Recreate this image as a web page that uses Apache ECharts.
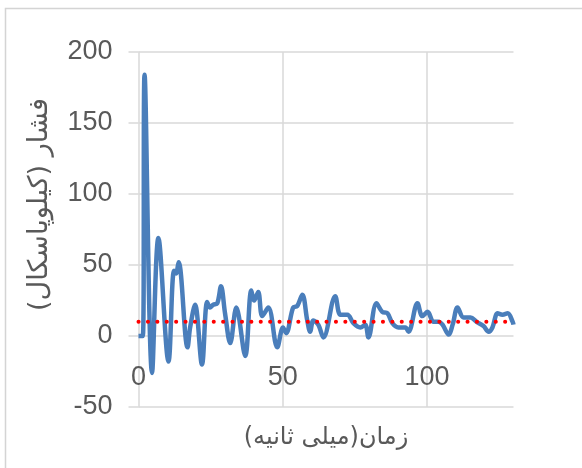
<!DOCTYPE html>
<html>
<head>
<meta charset="utf-8">
<script src="https://cdn.jsdelivr.net/npm/echarts@6/dist/echarts.min.js"></script>
<style>
html,body{margin:0;padding:0;background:#fff;}
#chart{width:582px;height:468px;}
</style>
</head>
<body>
<div id="chart"></div>
<script>
// time (ms) and pressure (kPa)
const timeMs = [0, 1.5, 2.1, 4.7, 6.9, 10.4, 12.3, 13.0, 13.9, 17.0, 17.9, 19.6, 22.0, 23.8, 24.8, 25.9, 27.3, 28.6, 30.0, 31.8, 33.9, 37.0, 39.1, 40.1, 41.5, 42.9, 45.0, 48.1, 50.1, 51.2, 53.6, 55.0, 56.8, 58.5, 59.5, 60.6, 62.3, 64.1, 68.2, 70.0, 72.4, 74.5, 76.9, 78.6, 79.7, 82.5, 84.5, 86.3, 88.0, 90.1, 92.5, 93.6, 96.7, 98.4, 100.2, 102.3, 104.0, 105.4, 107.5, 108.9, 110.6, 112.7, 115.1, 117.2, 119.6, 121.4, 122.7, 124.5, 126.2, 128.0, 129.7, 130];
const pressure = [0, 0, 184, -26, 69, -18, 46, 44, 52, -8, 6, 22, -20, 24, 20, 22, 23, 35, 16, -5, 20, -14, 32, 25, 31, 14, 20, -8, 6, 2, 20, 21, 29, 11, 3, 11, 8, -1, 28, 15, 15, 9, 6, 8, -1, 23, 17, 16, 9, 6, 6, 3, 23, 14, 17, 10, 10, 8, 1, 8, 20, 13, 13, 10, 7, 3, 6, 16, 15, 16, 10, 8];
const refTime = [0, 130];
const refPressure = [10, 10];
const yTicks = [-50, 0, 50, 100, 150, 200];
const xTicks = [0, 50, 100];
const yName = '\u200Fفشار (کیلوپاسکال)\u200F';
const xName = '\u200Fزمان(میلی ثانیه)\u200F';

const chart = echarts.init(document.getElementById('chart'), null, {renderer: 'canvas'});
const txt = '#595959';
const grid = '#d9d9d9';
chart.setOption({
  animation: false,
  backgroundColor: '#ffffff',
  graphic: [{
    type: 'rect', silent: true,
    shape: {x: 5.5, y: 8.5, width: 620, height: 520},
    style: {fill: 'none', stroke: '#d4d4d4', lineWidth: 1.5}
  }],
  grid: {left: 138.5, right: 68.5, top: 52, bottom: 61, containLabel: false, outerBoundsMode: 'none'},
  xAxis: {
    type: 'value', min: 0, max: 130, interval: 50,
    name: xName, nameLocation: 'middle', nameGap: 19, nameMoveOverlap: false,
    nameTextStyle: {color: txt, fontSize: 24, fontFamily: 'DejaVu Sans'},
    axisLine: {show: false, onZero: false},
    axisTick: {show: false},
    axisLabel: {color: txt, fontSize: 27, fontFamily: 'Liberation Sans', margin: -43, showMaxLabel: false,
      formatter: v => xTicks.indexOf(v) >= 0 ? String(v) : ''},
    splitLine: {show: true, showMinLine: false, showMaxLine: false, lineStyle: {color: grid, width: 1.5}}
  },
  yAxis: {
    type: 'value', min: -50, max: 200, interval: 50,
    name: yName, nameLocation: 'middle', nameGap: 85, nameRotate: 90, nameMoveOverlap: false,
    nameTextStyle: {color: txt, fontSize: 27, fontFamily: 'DejaVu Sans', padding: [0, 0, 0, 50]},
    axisLine: {show: true, onZero: false, lineStyle: {color: grid, width: 1.5}},
    axisTick: {show: true, length: 10, lineStyle: {color: grid, width: 1.5}},
    axisLabel: {color: txt, fontSize: 27, fontFamily: 'Liberation Sans', margin: 26,
      formatter: v => yTicks.indexOf(v) >= 0 ? String(v) : ''},
    splitLine: {show: true, lineStyle: {color: grid, width: 1.5}}
  },
  series: [{
    type: 'line', data: timeMs.map((t, i) => [t, pressure[i]]),
    showSymbol: false, smooth: 0.35, clip: true,
    lineStyle: {color: '#4a7ebb', width: 4.5},
    z: 2
  }, {
    type: 'line', data: refTime.map((t, i) => [t, refPressure[i]]),
    showSymbol: false,
    lineStyle: {color: '#ff0000', width: 4, type: [0.1, 9.3], cap: 'round'},
    z: 3
  }]
});
</script>
</body>
</html>
